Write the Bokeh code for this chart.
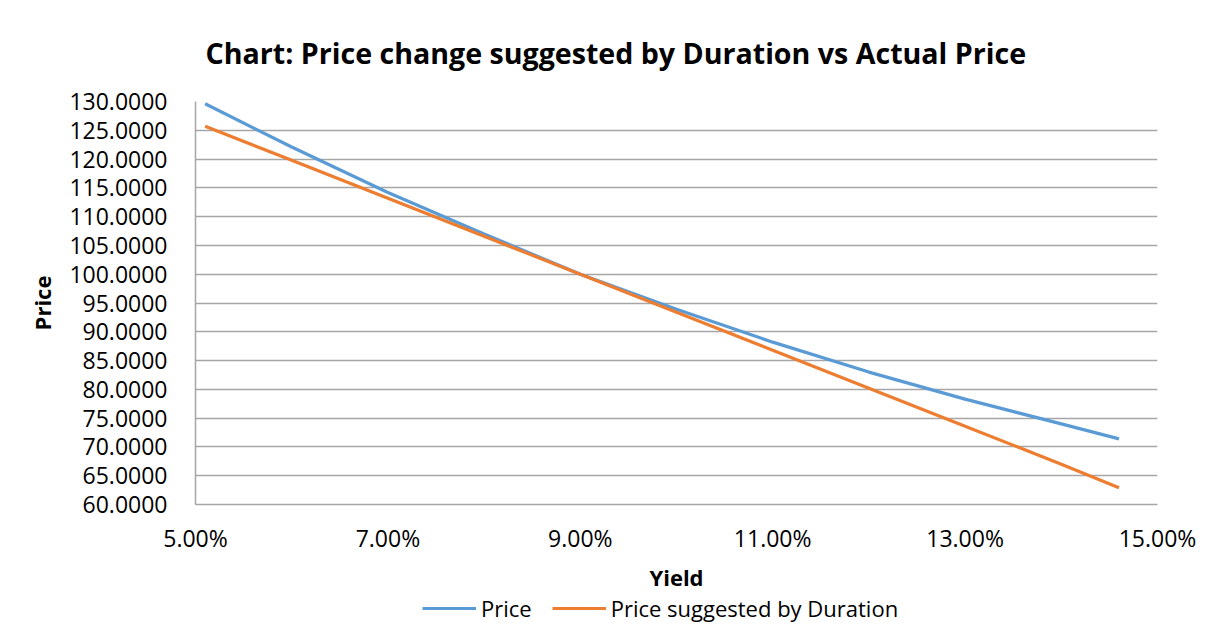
from bokeh.plotting import figure
from bokeh.layouts import column
from bokeh.models import (FixedTicker, NumeralTickFormatter, Legend, LegendItem,
                          ColumnDataSource, Range1d)
from bokeh.embed import file_html
from bokeh.resources import INLINE

# Data
yields = [0.051, 0.060, 0.070, 0.080, 0.090, 0.100, 0.110, 0.120, 0.130, 0.140, 0.146]
price = [129.6, 122.1, 114.2, 107.0, 100.0, 93.9, 88.2, 83.0, 78.3, 74.0, 71.4]
price_duration = [125.7, 119.8, 113.2, 106.6, 100.0, 93.4, 86.8, 80.2, 73.6, 67.0, 62.9]
x_ticks = [0.05, 0.07, 0.09, 0.11, 0.13, 0.15]
y_ticks = [60, 65, 70, 75, 80, 85, 90, 95, 100, 105, 110, 115, 120, 125, 130]
series_names = ["Price", "Price suggested by Duration"]
series_colors = ["#5B9BD5", "#ED7D31"]
series_fields = ["p", "d"]

FONT = "Open Sans"
GRID = "#a6a6a6"
W = 1217

src = ColumnDataSource(dict(x=yields, p=price, d=price_duration))

p = figure(width=W, height=594, x_range=(0.05, 0.15), y_range=(60, 130),
           output_backend="svg", toolbar_location=None,
           min_border_left=195, min_border_right=60, min_border_top=101, min_border_bottom=84)
p.outline_line_color = None
p.background_fill_color = "white"
p.border_fill_color = "white"

p.title.text = "Chart: Price change suggested by Duration vs Actual Price"
p.title.text_font = FONT
p.title.text_font_style = "bold"
p.title.text_font_size = "28.6px"
p.title.align = "left"
p.title.offset = 10
p.title.standoff = 59
p.title.text_color = "black"

for f, c in zip(series_fields, series_colors):
    p.line("x", f, source=src, line_color=c, line_width=3.2)

p.xaxis.ticker = FixedTicker(ticks=x_ticks)
p.yaxis.ticker = FixedTicker(ticks=y_ticks)
p.xaxis.formatter = NumeralTickFormatter(format="0.00%")
p.yaxis.formatter = NumeralTickFormatter(format="0.0000")

for ax in (p.xaxis[0], p.yaxis[0]):
    ax.major_tick_line_color = None
    ax.minor_tick_line_color = None
    ax.axis_line_color = GRID
    ax.axis_line_width = 1.5
    ax.major_label_text_font = FONT
    ax.major_label_text_font_size = "23px"
    ax.major_label_text_color = "black"
    ax.axis_label_text_font = FONT
    ax.axis_label_text_font_style = "bold"
    ax.axis_label_text_font_size = "22px"
    ax.axis_label_text_color = "black"

p.xaxis.axis_label = "Yield"
p.yaxis.axis_label = "Price"
p.xaxis.major_label_standoff = 11
p.xaxis.axis_label_standoff = 5
p.yaxis.major_label_standoff = 22
p.yaxis.axis_label_standoff = 9

p.xgrid.grid_line_color = None
p.ygrid.grid_line_color = GRID
p.ygrid.grid_line_width = 1.5

# Legend strip below the chart (its lines fall outside its own range, so only the legend shows)
lg = figure(width=W, height=28, x_range=Range1d(0, 1), y_range=Range1d(0, 1),
            output_backend="svg", toolbar_location=None,
            x_axis_location=None, y_axis_location=None,
            min_border_left=0, min_border_right=0, min_border_top=0, min_border_bottom=0)
lg.outline_line_color = None
lg.xgrid.grid_line_color = None
lg.ygrid.grid_line_color = None
items = []
for name, f, color in zip(series_names, series_fields, series_colors):
    r = lg.line("x", f, source=src, line_color=color, line_width=3.2)
    items.append(LegendItem(label=name, renderers=[r]))
legend = Legend(items=items, orientation="horizontal", location=(227, -1))
legend.label_text_font = FONT
legend.label_text_font_size = "22px"
legend.label_text_color = "black"
legend.glyph_width = 54
legend.label_standoff = 5
legend.spacing = 20
legend.padding = 0
legend.margin = 0
legend.border_line_color = None
legend.background_fill_alpha = 0
lg.add_layout(legend, "center")

layout = column(p, lg, spacing=0)
open("out.html", "w").write(file_html(layout, INLINE))
